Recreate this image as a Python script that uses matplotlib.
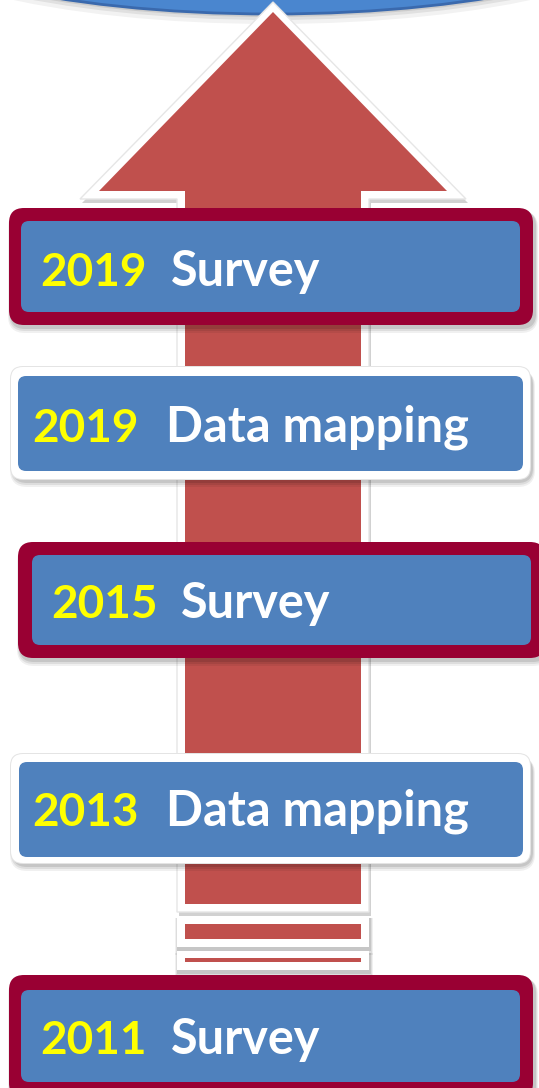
import matplotlib
matplotlib.use('Agg')
import matplotlib.pyplot as plt
from matplotlib.patches import FancyBboxPatch, Polygon, Ellipse, Rectangle

# Datos del diagrama (de arriba hacia abajo)
years = ['2019', '2019', '2015', '2013', '2011']
labels = ['Survey', 'Data mapping', 'Survey', 'Data mapping', 'Survey']
frames = ['crimson', 'white', 'crimson', 'white', 'crimson']

# Layout en pixeles: (x0, y0, x1, y1) del marco exterior
outer_boxes = [(9, 208, 533, 325), (11, 367, 530, 479), (18, 542, 545, 658),
               (11, 754, 530, 863), (9, 975, 533, 1098)]
inner_boxes = [(21, 221, 520, 312), (18, 376, 523, 471), (32, 555, 531, 645),
               (19, 762, 523, 857), (21, 990, 520, 1082)]
text_x = [(40, 171), (32, 166), (51, 181), (32, 166), (40, 171)]
text_base = [286, 442, 618, 826, 1054]

RED = '#c0504d'
CRIMSON = '#990033'
BLUE = '#4f81bd'
YELLOW = '#ffff00'

W, H = 539, 1088
fig = plt.figure(figsize=(W / 100, H / 100), dpi=100)
ax = fig.add_axes([0, 0, 1, 1])
ax.set_xlim(0, W)
ax.set_ylim(H, 0)
ax.axis('off')


def rbox(x0, y0, x1, y1, r, color, z, alpha=1.0):
    p = FancyBboxPatch((x0 + r, y0 + r), (x1 - x0) - 2 * r, (y1 - y0) - 2 * r,
                       boxstyle='round,pad=%f,rounding_size=%f' % (r, r),
                       fc=color, ec='none', zorder=z, alpha=alpha)
    ax.add_patch(p)


def shadow_rect(x0, y0, x1, y1, z, r=0):
    # sombra difusa, unas capas grises
    for k, a in [(6, 0.06), (4, 0.08), (2, 0.10)]:
        if r > 0:
            rbox(x0 - k / 2 + 2, y0 + 3, x1 + k / 2 + 2, y1 + k + 2, r + k / 2, 'black', z, a)
        else:
            ax.add_patch(Rectangle((x0 - k / 2 + 1, y0 + 2), (x1 - x0) + k, (y1 - y0) + k,
                                   fc='black', ec='none', alpha=a, zorder=z))


# Elipse azul de arriba
for k, a in [(10, 0.05), (6, 0.07), (3, 0.09)]:
    ax.add_patch(Ellipse((272, -87 + k), 800, 202, fc='black', ec='none', alpha=a, zorder=1))
ax.add_patch(Ellipse((272, -87), 800, 202, fc='#4a86cf', ec='#3a69ad', lw=2, zorder=2))

# Flecha: contorno blanco + relleno rojo
white_arrow = [(273, 2), (80, 199), (177, 199), (177, 912), (369, 912), (369, 199), (466, 199)]
red_arrow = [(273, 12), (99, 191), (185, 191), (185, 904), (361, 904), (361, 191), (447, 191)]
shadow_pts = [(x + 2, y + 4) for x, y in white_arrow]
ax.add_patch(Polygon(shadow_pts, closed=True, fc='black', ec='none', alpha=0.18, zorder=3))
ax.add_patch(Polygon(white_arrow, closed=True, fc='white', ec='#e6e6e6', lw=1, zorder=4))
ax.add_patch(Polygon(red_arrow, closed=True, fc=RED, ec='none', zorder=5))

# Franjas de la cola
tail_white = [(916, 947), (951, 970)]
tail_red = [(924, 939), (958, 962)]
for (y0, y1) in tail_white:
    shadow_rect(177, y0, 369, y1, 3)
    ax.add_patch(Rectangle((177, y0), 192, y1 - y0, fc='white', ec='none', zorder=4))
for (y0, y1) in tail_red:
    ax.add_patch(Rectangle((185, y0), 176, y1 - y0, fc=RED, ec='none', zorder=5))

# Cajas
for i in range(len(years)):
    ox0, oy0, ox1, oy1 = outer_boxes[i]
    ix0, iy0, ix1, iy1 = inner_boxes[i]
    shadow_rect(ox0, oy0, ox1, oy1, 6, r=14)
    if frames[i] == 'crimson':
        rbox(ox0, oy0, ox1, oy1, 15, CRIMSON, 7)
    else:
        rbox(ox0 - 1, oy0 - 1, ox1 + 1, oy1 + 1, 13, '#e4e4e4', 7)
        rbox(ox0, oy0, ox1, oy1, 12, 'white', 7)
    rbox(ix0, iy0, ix1, iy1, 8, BLUE, 8)
    tx_year, tx_lab = text_x[i]
    ax.text(tx_year, text_base[i], years[i], color=YELLOW, fontsize=33,
            fontfamily='Lato', fontweight='bold', va='baseline', ha='left', zorder=9)
    ax.text(tx_lab, text_base[i], labels[i], color='white', fontsize=35,
            fontfamily='Lato', fontweight='bold', va='baseline', ha='left', zorder=9)

fig.savefig('out.png', dpi=100)
